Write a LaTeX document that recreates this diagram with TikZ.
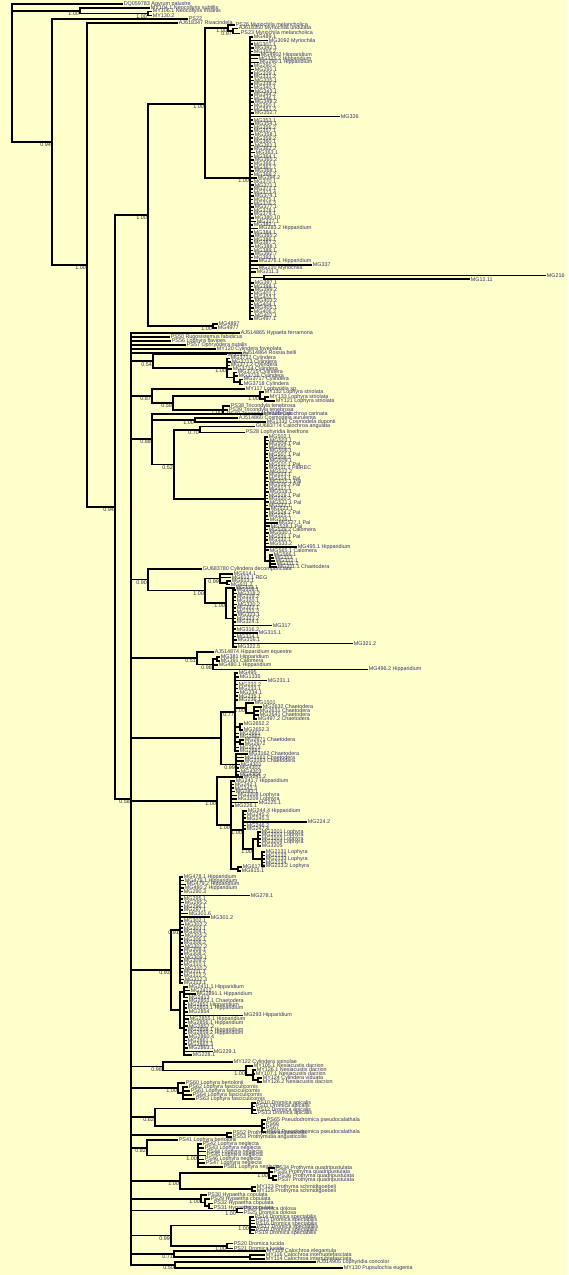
\documentclass[tikz,border=0pt]{standalone}
\usepackage{fontspec}
\newfontfamily\treeface{Liberation Sans}
\newcommand{\leaffont}{\treeface\fontsize{5.4}{6}\selectfont}
\definecolor{bgyellow}{RGB}{255,255,204}
\definecolor{leafc}{RGB}{50,50,110}
\definecolor{suppc}{RGB}{50,50,50}

\begin{document}
\begin{tikzpicture}[x=1pt,y=-1pt,
                    br/.style={line width=1.5pt},
                    leaf/.style={anchor=west,inner sep=0.6pt,font=\leaffont,text=leafc},
                    supp/.style={font=\leaffont,text=suppc,inner sep=0.3pt,label distance=0.8pt}]

  \fill[bgyellow] (0,0) rectangle (568,1275);
  \useasboundingbox (0,0) rectangle (568,1275);

  % outgroups and deep nodes
  \coordinate (root) at (12,73);
  \node[leaf] (dq) at (123,4) {DQ059783 Agyrum palustre};
  \coordinate[label={[supp]below left:1.00}] (neo) at (80,10.75);
  \node[leaf] (neo1) at (150,8) {MY104.1 Neocollyris subtilis};
  \coordinate[label={[supp]below left:1.00}] (neo2) at (148,13.5);
  \node[leaf] (neo3) at (152,11.5) {MY106.1 Neocollyris trisanis};
  \node[leaf] (neo4) at (152,15.5) {MY130.2};
  \coordinate[label={[supp]below left:0.94}] (n52) at (52,142);
  \node[leaf] (ps22) at (188,19) {PS22};
  \coordinate[label={[supp]below left:1.00}] (n87) at (87,265);
  \node[leaf] (riva) at (178,23) {AJ618347 Rivacindela};
  \coordinate[label={[supp]below left:0.94}] (n115) at (115,507);

  \draw[br] (root) |- (dq.west)  (root) |- (neo)  (root) |- (n52);
  \draw[br] (neo) |- (neo1.west)  (neo) |- (neo2);
  \draw[br] (neo2) |- (neo3.west)  (neo2) |- (neo4.west);
  \draw[br] (n52) |- (ps22.west)  (n52) |- (n87);
  \draw[br] (n87) |- (riva.west)  (n87) |- (n115);

  % Myriochila clade
  \coordinate[label={[supp]below left:1.00}] (n148) at (148,215);
  \coordinate[label={[supp]below left:1.00}] (n205) at (205,104);
  \coordinate[label={[supp]below left:1.00}] (myr) at (228,28);
  \node[leaf] (myr1) at (235,25) {PS26 Myriochila melancholica};
  \coordinate[label={[supp]below left:0.97}] (myr2) at (233,31);
  \node[leaf] (myr3) at (238,28.5) {AJ618350 Myriochila undulata};
  \node[leaf] (myr4) at (240,33.5) {PS23 Myriochila melancholica};
  \coordinate[label={[supp]below left:1.00}] (pa) at (250,178);
  \coordinate (pb) at (264,277.4);
  \node[leaf] (pb1) at (546,275.6) {MG216};
  \node[leaf] (pb2) at (470,279.2) {MG12.11};
  \coordinate[label={[supp]below left:1.00}] (n213) at (213,326);
  \node[leaf] (mg48a) at (218,324) {MG4897};
  \node[leaf] (mg48b) at (217,328) {MG4977};

  \draw[br] (n115) |- (n148)  (n148) |- (n205)  (n148) |- (n213);
  \draw[br] (n205) |- (myr)  (n205) |- (pa);
  \draw[br] (myr) |- (myr1.west)  (myr) |- (myr2);
  \draw[br] (myr2) |- (myr3.west)  (myr2) |- (myr4.west);
  \draw[br] (pa) |- (pb)  (pb) |- (pb1.west)  (pb) |- (pb2.west);
  \draw[br] (n213) |- (mg48a.west)  (n213) |- (mg48b.west);

  \foreach \len/\lab [count=\i from 0] in {3/MG489.1, 18/MG3092 Myriochila, 3/MG307.1, 4/MG342.1,
      3/MG355.2, 10/MG4902 Hipparidium, 8/MG325.2 Hipparidium, 9/MG290.1 Hipparidium, 3/MG290.2,
      4/MG291.1, 3/MG329.1, 3/MG331.2, 4/MG335.1, 3/MG338.2, 3/MG340.1, 4/MG343.1, 3/MG344.2,
      3/MG346.1, 4/MG348.2, 3/MG350.1, 3/MG351.2, 4/MG352.7, 90/MG326, 3/MG353.1, 4/MG354.1,
      3/MG356.2, 3/MG357.1, 4/MG358.1, 3/MG359.2, 3/MG360.1, 4/MG361.1, 3/MG362.2, 5/MG363.1,
      3/MG364.1, 4/MG365.2, 3/MG366.1, 3/MG367.7, 4/MG368.1, 3/MG369.2, 7/MG394.2, 3/MG370.1,
      4/MG371.1, 3/MG372.1, 3/MG373.4, 4/MG374.1, 3/MG375.1, 3/MG376.2, 4/MG377.1, 3/MG378.1,
      3/MG379.1, 4/MG380.10, 6/MG327.1, 3/MG382.1, 8/MG283.2 Hipparidium, 3/MG384.1, 4/MG385.2,
      3/MG386.1, 3/MG387.2, 4/MG388.1, 3/MG389.1, 4/MG392.7, 3/MG393.1, 8/MG376.1 Hipparidium,
      62/MG337, 8/MG210 Myriochila, 6/MG211.3}{
    \node[leaf] (pa\i) at ({250+\len},{37+3.615*\i}) {\lab};
    \draw[br] (pa) |- (pa\i.west);
  }
  \foreach \len/\lab [count=\i from 68] in {4/MG397.1, 3/MG398.1, 4/MG399.2, 3/MG401.1, 3/MG402.1,
      4/MG403.2, 3/MG404.1, 4/MG405.1, 3/MG406.2, 4/MG407.1, 3/MG497.1}{
    \node[leaf] (pa\i) at ({250+\len},{37+3.615*\i}) {\lab};
    \draw[br] (pa) |- (pa\i.west);
  }

  % the large comb
  \coordinate[label={[supp]below left:0.58}] (n131) at (131,799);
  \draw[br] (n115) |- (n131);
  \node[leaf] (h1) at (240,333) {AJ514865 Hypaeta ferramona};
  \node[leaf] (h2) at (170,337) {PS50 Rugosistemus fabidicus};
  \node[leaf] (h3) at (171,341) {PS56 Lophyra flavipes};
  \node[leaf] (h4) at (186,345) {PS57 Ophryodera nutalis};
  \node[leaf] (h5) at (216,349) {MY120 Cylindera foveolata};
  \node[leaf] (h6) at (242,353) {AJ514864 Rossia belli};
  \draw[br] (n131) |- (h1.west)  (n131) |- (h2.west)  (n131) |- (h3.west)
            (n131) |- (h4.west)  (n131) |- (h5.west)  (n131) |- (h6.west);

  % Cylindera
  \coordinate[label={[supp]below left:0.54}] (n153) at (153,361.2);
  \node[leaf] (cy0) at (227,354.5) {MG1502};
  \coordinate[label={[supp]below left:1.00}] (n227) at (227,367.9);
  \node[leaf] (cy1) at (230,358.5) {MG3712 Cylindera};
  \node[leaf] (cy2) at (231,362) {MG3713 Cylindera};
  \node[leaf] (cy3) at (230,365.5) {MG371.2 Cylindera};
  \node[leaf] (cy4) at (232,369) {MG3714 Cylindera};
  \coordinate (n234) at (234,377.25);
  \node[leaf] (cy5) at (237,372.5) {MG3715 Cylindera};
  \node[leaf] (cy6) at (238,376) {MG3716 Cylindera};
  \coordinate (n240) at (240,382);
  \node[leaf] (cy7) at (243,379.5) {MG3717 Cylindera};
  \node[leaf] (cy8) at (243,384.5) {MG3718 Cylindera};
  \draw[br] (n131) |- (n153)  (n153) |- (cy0.west)  (n153) |- (n227);
  \draw[br] (n227) |- (cy1.west)  (n227) |- (cy2.west)  (n227) |- (cy3.west)
            (n227) |- (cy4.west)  (n227) |- (n234);
  \draw[br] (n234) |- (cy5.west)  (n234) |- (cy6.west)  (n234) |- (n240);
  \draw[br] (n240) |- (cy7.west)  (n240) |- (cy8.west);

  % Lophyra striolata, Tricondyla
  \coordinate[label={[supp]below left:0.87}] (n152) at (152,396);
  \node[leaf] (lo0) at (245,389) {MY117 Lophyridia sp.};
  \coordinate[label={[supp]below left:0.59}] (n173) at (173,403);
  \coordinate[label={[supp]below left:1.00}] (n260) at (260,396);
  \node[leaf] (lo1) at (264,392) {MY132 Lophyra striolata};
  \coordinate (n265s) at (265,399);
  \node[leaf] (lo2) at (269,397) {MY133 Lophyra striolata};
  \node[leaf] (lo3) at (275,401) {MY121 Lophyra striolata};
  \coordinate[label={[supp]below left:1.00}] (n223) at (223,410);
  \node[leaf] (tr1) at (230,406) {PS38 Tricondyla tenebrosa};
  \node[leaf] (tr2) at (228,410) {PS39 Tricondyla tenebrosa};
  \node[leaf] (tr3) at (226,414) {PS40 Tricondyla tenebrosa};
  \draw[br] (n131) |- (n152)  (n152) |- (lo0.west)  (n152) |- (n173);
  \draw[br] (n173) |- (n260)  (n173) |- (n223);
  \draw[br] (n260) |- (lo1.west)  (n260) |- (n265s)  (n265s) |- (lo2.west)  (n265s) |- (lo3.west);
  \draw[br] (n223) |- (tr1.west)  (n223) |- (tr2.west)  (n223) |- (tr3.west);

  % Calochroa, Cosmodela and the Pal comb
  \coordinate[label={[supp]below left:0.88}] (n152b) at (152,439);
  \node[leaf] (ca0) at (263,414) {MY129 Calochroa carinata};
  \coordinate[label={[supp]below left:1.00}] (n195) at (195,420);
  \node[leaf] (co1) at (238,418) {AJ514860 Cosmodela aurulenta};
  \node[leaf] (co2) at (266,422) {MG1332 Cosmodela duponti};
  \coordinate[label={[supp]below left:0.52}] (n174) at (174,464.5);
  \coordinate[label={[supp]below left:0.70}] (n200) at (200,430);
  \node[leaf] (ca1) at (255,426.5) {GU683774 Calochroa angulata};
  \node[leaf] (ca2) at (245,432.5) {PS28 Lophyridia lineifrons};
  \coordinate (n265) at (265,499);
  \coordinate (n270) at (270,561);
  \draw[br] (n131) |- (n152b)  (n152b) |- (ca0.west)  (n152b) |- (n195)  (n152b) |- (n174);
  \draw[br] (n195) |- (co1.west)  (n195) |- (co2.west);
  \draw[br] (n174) |- (n200)  (n174) |- (n265);
  \draw[br] (n200) |- (ca1.west)  (n200) |- (ca2.west);
  \foreach \len/\lab [count=\i from 0] in {3/MG502.1, 4/MG503.1, 3/MG504.1 Pal, 3/MG505.2, 4/MG506.1,
      3/MG507.1 Pal, 3/MG508.2, 4/MG509.1, 3/MG510.1 Pal, 3/MG511.1 PalREC, 4/MG512.2, 3/MG513.1,
      3/MG514.1 Pal, 4/MG515.1 Pal, 3/MG516.2 Pal, 3/MG517.1, 4/MG518.1, 3/MG519.1 Pal, 3/MG520.2,
      4/MG521.1 Pal, 3/MG522.1, 5/MG523.1, 3/MG524.2 Pal, 3/MG525.1, 4/MG526.1, 13/MG527.1 Pal,
      5/MG528.1 Pal, 3/MG529.2 Calomera, 4/MG530.1, 3/MG531.1 Pal, 3/MG532.1, 4/MG533.2,
      32/MG495.1 Hipparidium, 4/MG565.1 Calomera}{
    \node[leaf] (pl\i) at ({265+\len},{437+3.43*\i}) {\lab};
    \draw[br] (n265) |- (pl\i.west);
  }
  \draw[br] (n265) |- (n270);
  \foreach \lab [count=\i from 0] in {MG566.1, MG313, MG312.1, MG311.2, MG311.1 Chaetodera}{
    \node[leaf] (ch\i) at ({273+\i},{555+3*\i}) {\lab};
    \draw[br] (n270) |- (ch\i.west);
  }

  % Cylindera decempunctata group
  \coordinate[label={[supp]below left:0.90}] (n148b) at (148,579.5);
  \node[leaf] (gu) at (202,569) {GU683780 Cylindera decompunctata};
  \coordinate[label={[supp]below left:1.00}] (n205b) at (205,590.7);
  \coordinate[label={[supp]below left:0.99}] (n220) at (220,578.4);
  \node[leaf] (rg1) at (233,574) {MG614.1};
  \node[leaf] (rg2) at (231,577.5) {MG612.1 REG};
  \coordinate (n227b) at (227,582.75);
  \node[leaf] (rg3) at (231,581) {MG613.1};
  \node[leaf] (rg4) at (230,584.5) {MG611.2};
  \coordinate[label={[supp]below left:1.00}] (n226) at (226,603);
  \node[leaf] (rg5) at (235,588) {MG319.1};
  \coordinate (n233) at (233,618.5);
  \draw[br] (n131) |- (n148b)  (n148b) |- (gu.west)  (n148b) |- (n205b);
  \draw[br] (n205b) |- (n220)  (n205b) |- (n226);
  \draw[br] (n220) |- (rg1.west)  (n220) |- (rg2.west)  (n220) |- (n227b);
  \draw[br] (n227b) |- (rg3.west)  (n227b) |- (rg4.west);
  \draw[br] (n226) |- (rg5.west)  (n226) |- (n233);
  \foreach \len/\lab [count=\i from 0] in {3/MG318.1, 4/MG318.2, 3/MG319.2, 3/MG320.1, 4/MG320.2,
      3/MG322.1, 3/MG322.2, 4/MG323.1, 3/MG323.2, 3/MG324.1, 39/MG317, 3/MG316.2, 25/MG315.1,
      3/MG314.1, 4/MG316.1, 120/MG321.2, 4/MG322.5}{
    \node[leaf] (tc\i) at ({233+\len},{590+3.5625*\i}) {\lab};
    \draw[br] (n233) |- (tc\i.west);
  }

  % Hipparidium equestre
  \coordinate[label={[supp]below left:0.51}] (n197) at (197,658);
  \node[leaf] (he0) at (214,652) {AJ514874 Hipparidium equestre};
  \coordinate[label={[supp]below left:0.98}] (n213b) at (213,664.25);
  \coordinate (n217) at (217,659);
  \node[leaf] (he1) at (220,657) {MG381 Hipparidium};
  \node[leaf] (he2) at (220,661) {MG391 Calomera};
  \node[leaf] (he3) at (218,665) {MG480.1 Hipparidium};
  \node[leaf] (he4) at (368,669.5) {MG496.2 Hipparidium};
  \draw[br] (n131) |- (n197)  (n197) |- (he0.west)  (n197) |- (n213b);
  \draw[br] (n213b) |- (n217)  (n213b) |- (he3.west)  (n213b) |- (he4.west);
  \draw[br] (n217) |- (he1.west)  (n217) |- (he2.west);

  % Chaetodera
  \coordinate (n221) at (221,738);
  \coordinate[label={[supp]below left:0.77}] (n235) at (235,712);
  \coordinate[label={[supp]below left:1.00}] (n246) at (246,708);
  \node[leaf] (cd0) at (254,703) {MG1501};
  \coordinate (n254) at (254,713);
  \node[leaf] (cd1) at (262,707) {MG2632 Chaetodera};
  \node[leaf] (cd2) at (259,711) {MG2631 Chaetodera};
  \node[leaf] (cd3) at (259,715) {MG2641 Chaetodera};
  \node[leaf] (cd4) at (257,719) {MG497.2 Chaetodera};
  \coordinate (n240a) at (240,727);
  \node[leaf] (cd5) at (243,724) {MG2652.2};
  \node[leaf] (cd6) at (243,730) {MG2652.3};
  \node[leaf] (cd7) at (239,733.5) {MG2661};
  \node[leaf] (cd8) at (239,737) {MG2662};
  \coordinate (n240b) at (240,742);
  \node[leaf] (cd9) at (244,740) {MG2671 Chaetodera};
  \node[leaf] (cd10) at (244,744) {MG2672};
  \node[leaf] (cd11) at (239,747.5) {MG2673};
  \node[leaf] (cd12) at (239,751) {MG2681};
  \coordinate[label={[supp]below left:0.99}] (n236) at (236,764.5);
  \draw[br] (n131) |- (n221)  (n221) |- (n235)  (n221) |- (n236);
  \foreach \len/\lab [count=\i from 0] in {3/MG495, 4/MG1335, 32/MG231.1, 3/MG232.2, 3/MG233.1,
      4/MG234.1, 3/MG235.1, 3/MG236.1}{
    \node[leaf] (cp\i) at ({235+\len},{673+3.857*\i}) {\lab};
    \draw[br] (n235) |- (cp\i.west);
  }
  \draw[br] (n235) |- (n246)  (n235) |- (n240a)  (n235) |- (cd7.west)  (n235) |- (cd8.west)
            (n235) |- (n240b)  (n235) |- (cd11.west)  (n235) |- (cd12.west);
  \draw[br] (n246) |- (cd0.west)  (n246) |- (n254);
  \draw[br] (n254) |- (cd1.west)  (n254) |- (cd2.west)  (n254) |- (cd3.west)  (n254) |- (cd4.west);
  \draw[br] (n240a) |- (cd5.west)  (n240a) |- (cd6.west);
  \draw[br] (n240b) |- (cd9.west)  (n240b) |- (cd10.west);
  \foreach \len/\lab [count=\i from 0] in {12/MG3162 Chaetodera, 8/MG3161 Chaetodera,
      8/MG3163 Chaetodera, 4/MG4301, 3/MG4302, 4/MG4303, 3/MG4304}{
    \node[leaf] (cq\i) at ({236+\len},{754+3.5*\i}) {\lab};
    \draw[br] (n236) |- (cq\i.west);
  }

  % Lophyra and Hipparidium group
  \coordinate[label={[supp]below left:1.00}] (n217b) at (217,801);
  \node[leaf] (lh0) at (243,777) {MG241.2};
  \coordinate[label={[supp]below left:1.00}] (n231) at (231,825);
  \coordinate[label={[supp]below left:1.00}] (n243) at (243,830);
  \coordinate[label={[supp]below left:1.00}] (n253) at (253,849);
  \coordinate (n258) at (258,839);
  \coordinate (n262) at (262,859);
  \coordinate (n238) at (238,869);
  \node[leaf] (lh1) at (242,867) {MG617.2};
  \node[leaf] (lh2) at (241,871) {MG615.1};
  \draw[br] (n131) |- (n217b)  (n217b) |- (lh0.west)  (n217b) |- (n231);
  \draw[br] (n231) |- (n243)  (n231) |- (n238)  (n243) |- (n253)  (n253) |- (n258)  (n253) |- (n262);
  \draw[br] (n238) |- (lh1.west)  (n238) |- (lh2.west);
  \foreach \len/\lab [count=\i from 0] in {4/MG241.7 Hipparidium, 3/MG242.1, 3/MG242.3, 4/MG243.1,
      6/MG3208 Lophyra, 6/MG3209 Lophyra, 27/MG225.1, 3/MG226.1}{
    \node[leaf] (lq\i) at ({231+\len},{781+3.571*\i}) {\lab};
    \draw[br] (n231) |- (lq\i.west);
  }
  \foreach \len/\lab [count=\i from 0] in {4/MG244.4 Hipparidium, 3/MG245.2, 3/MG245.3,
      64/MG224.2, 3/MG246.2, 3/MG247.4}{
    \node[leaf] (lr\i) at ({243+\len},{811+3.6*\i}) {\lab};
    \draw[br] (n243) |- (lr\i.west);
  }
  \foreach \lab [count=\i from 0] in {MG3201 Lophyra, MG3202 Lophyra, MG3203 Lophyra,
      MG3204 Lophyra, MG3205}{
    \node[leaf] (ls\i) at (261,{832+3.5*\i}) {\lab};
    \draw[br] (n258) |- (ls\i.west);
  }
  \foreach \lab [count=\i from 0] in {MG2131 Lophyra, MG2132, MG2133 Lophyra, MG2134,
      MG213.2 Lophyra}{
    \node[leaf] (lt\i) at (265,{852+3.5*\i}) {\lab};
    \draw[br] (n262) |- (lt\i.west);
  }

  % Hipparidium
  \coordinate[label={[supp]below left:0.93}] (nX) at (171,970);
  \coordinate[label={[supp]below left:0.91}] (nV) at (180,930);
  \coordinate (nW) at (180,1010);
  \coordinate (n184a) at (184,992);
  \coordinate (n184b) at (184,1028);
  \draw[br] (n131) |- (nX)  (nX) |- (nV)  (nX) |- (nW)  (nW) |- (n184a)  (nW) |- (n184b);
  \foreach \len/\lab [count=\i from 0] in {3/MG478.1 Hipparidium, 4/MG479.1 Hipparidium,
      6/MG479.2 Hipparidium, 4/MG480.2 Hipparidium, 3/MG290.3, 70/MG278.1, 3/MG295.1, 4/MG295.2,
      3/MG296.1, 3/MG297.1, 8/MG301.6, 30/MG301.2, 3/MG302.1, 4/MG302.2, 3/MG303.1, 3/MG304.1,
      4/MG305.2, 3/MG306.1, 3/MG306.2, 4/MG307.2, 3/MG308.1, 3/MG308.2, 4/MG309.1, 3/MG309.2,
      3/MG310.1, 4/MG310.2, 3/MG311.3, 3/MG312.2, 4/MG312.3, 3/MG313.1}{
    \node[leaf] (hv\i) at ({180+\len},{877+3.655*\i}) {\lab};
    \draw[br] (nV) |- (hv\i.west);
  }
  \foreach \len/\lab [count=\i from 0] in {4/MG2411.1 Hipparidium, 6/MG2412,
      12/MG2891.1 Hipparidium, 4/MG2413}{
    \node[leaf] (hw\i) at ({184+\len},{987+3.5*\i}) {\lab};
    \draw[br] (n184a) |- (hw\i.west);
  }
  \foreach \len/\lab [count=\i from 0] in {4/MG2851.1 Chaetodera, 3/MG2852 Hipparidium,
      3/MG2853.1 Hipparidium, 4/MG2854, 59/MG293 Hipparidium, 5/MG2855.1 Hipparidium,
      3/MG2856.1 Hipparidium, 4/MG2857.2, 3/MG2858.1 Hipparidium, 3/MG2859.2 Hipparidium,
      4/MG2860.4, 3/MG2861.1, 3/MG2862.3, 4/MG2863.1, 29/MG229.1, 8/MG228.1}{
    \node[leaf] (hx\i) at ({184+\len},{1001+3.6*\i}) {\lab};
    \draw[br] (n184b) |- (hx\i.west);
  }

  % Cylindera spinolae, viduata
  \coordinate[label={[supp]below left:0.98}] (n163) at (163,1066.25);
  \node[leaf] (sp0) at (233,1062) {MY122 Cylindera spinolae};
  \coordinate[label={[supp]below left:1.00}] (n246b) at (246,1070.5);
  \node[leaf] (sp1) at (253,1066) {MY105.1 Nesiacustis dacrion};
  \coordinate (n253b) at (253,1075);
  \node[leaf] (sp2) at (256,1070) {MY126.1 Nesiacustis dacrion};
  \node[leaf] (sp3) at (255,1074) {MY107.1 Nesiacustis dacrion};
  \coordinate (n258b) at (258,1080);
  \node[leaf] (sp4) at (262,1078) {MY124 Cylindera viduata};
  \node[leaf] (sp5) at (262,1082) {MY126.2 Nesiacustis dacrion};
  \draw[br] (n131) |- (n163)  (n163) |- (sp0.west)  (n163) |- (n246b);
  \draw[br] (n246b) |- (sp1.west)  (n246b) |- (n253b);
  \draw[br] (n253b) |- (sp2.west)  (n253b) |- (sp3.west)  (n253b) |- (n258b);
  \draw[br] (n258b) |- (sp4.west)  (n258b) |- (sp5.west);

  % Lophyra fasciculicornis
  \coordinate[label={[supp]below left:1.00}] (n178) at (178,1088);
  \node[leaf] (lf0) at (185,1083) {PS60 Lophyra bertolonii};
  \coordinate (n183) at (183,1093);
  \node[leaf] (lf1) at (188,1087) {PS62 Lophyra fasciculicornis};
  \node[leaf] (lf2) at (190,1091) {PS61 Lophyra fasciculicornis};
  \node[leaf] (lf3) at (192,1095) {PS64 Lophyra fasciculicornis};
  \node[leaf] (lf4) at (195,1099) {PS63 Lophyra fasciculicornis};
  \draw[br] (n131) |- (n178)  (n178) |- (lf0.west)  (n178) |- (n183);
  \draw[br] (n183) |- (lf1.west)  (n183) |- (lf2.west)  (n183) |- (lf3.west)  (n183) |- (lf4.west);

  % Dromica apicalis, Pseudodromica
  \coordinate[label={[supp]below left:0.62}] (n155) at (155,1117);
  \coordinate (n252) at (252,1108.25);
  \node[leaf] (da1) at (256,1103) {PS10 Dromica apicalis};
  \node[leaf] (da2) at (255,1106.5) {PS11 Dromica apicalis};
  \node[leaf] (da3) at (256,1110) {PS12 Dromica apicalis};
  \node[leaf] (da4) at (257,1113.5) {PS13 Dromica apicalis};
  \coordinate (n262c) at (262,1126);
  \node[leaf] (pd1) at (266,1120) {PS65 Pseudodromica pseudocalathala};
  \node[leaf] (pd2) at (265,1124) {PS66};
  \node[leaf] (pd3) at (265,1128) {PS67};
  \node[leaf] (pd4) at (266,1132) {PS68 Pseudodromica pseudocalathala};
  \draw[br] (n131) |- (n155)  (n155) |- (n252)  (n155) |- (n262c);
  \draw[br] (n252) |- (da1.west)  (n252) |- (da2.west)  (n252) |- (da3.west)  (n252) |- (da4.west);
  \draw[br] (n262c) |- (pd1.west)  (n262c) |- (pd2.west)  (n262c) |- (pd3.west)  (n262c) |- (pd4.west);

  % Prothymidia
  \coordinate (n227c) at (227,1135);
  \node[leaf] (pr1) at (232,1133) {PS52 Prothymidia angusticollis};
  \node[leaf] (pr2) at (232,1137) {PS53 Prothymidia angusticollis};
  \draw[br] (n131) |- (n227c)  (n227c) |- (pr1.west)  (n227c) |- (pr2.west);

  % Lophyra neglecta
  \coordinate[label={[supp]below left:0.82}] (n147) at (147,1148);
  \node[leaf] (ln0) at (178,1140) {PS41 Lophyra bertolonii};
  \coordinate[label={[supp]below left:1.00}] (n198) at (198,1155.5);
  \draw[br] (n131) |- (n147)  (n147) |- (ln0.west)  (n147) |- (n198);
  \foreach \len/\lab [count=\i from 0] in {4/PS42 Lophyra neglecta, 6/PS43 Lophyra neglecta,
      8/PS44 Lophyra neglecta, 8/PS45 Lophyra neglecta, 6/PS46 Lophyra neglecta,
      7/PS47 Lophyra neglecta, 25/PS81 Lophyra neglecta}{
    \node[leaf] (ln\i x) at ({198+\len},{1144+3.83*\i}) {\lab};
    \draw[br] (n198) |- (ln\i x.west);
  }

  % Prothyma
  \coordinate[label={[supp]below left:1.00}] (n180) at (180,1181);
  \coordinate[label={[supp]below left:1.00}] (n269) at (269,1173);
  \node[leaf] (pq1) at (275,1168) {PS34 Prothyma quadripustulata};
  \node[leaf] (pq2) at (273,1172) {PS35 Prothyma quadripustulata};
  \coordinate (n273) at (273,1178);
  \node[leaf] (pq3) at (277,1176) {PS36 Prothyma quadripustulata};
  \node[leaf] (pq4) at (277,1180) {PS37 Prothyma quadripustulata};
  \coordinate (n252b) at (252,1189);
  \node[leaf] (ps1) at (256,1187) {MY123 Prothyma schmidtgoebeli};
  \node[leaf] (ps2) at (256,1191) {MY125 Prothyma schmidtgoebeli};
  \draw[br] (n131) |- (n180)  (n180) |- (n269)  (n180) |- (n252b);
  \draw[br] (n269) |- (pq1.west)  (n269) |- (pq2.west)  (n269) |- (n273);
  \draw[br] (n273) |- (pq3.west)  (n273) |- (pq4.west);
  \draw[br] (n252b) |- (ps1.west)  (n252b) |- (ps2.west);

  % Hypaetha
  \coordinate[label={[supp]below left:1.00}] (n201) at (201,1199);
  \node[leaf] (hy1) at (207,1195) {PS30 Hypaetha copulata};
  \coordinate (n205c) at (205,1202.5);
  \node[leaf] (hy2) at (210,1199) {PS29 Hypaetha copulata};
  \coordinate (n209) at (209,1206);
  \node[leaf] (hy3) at (213,1203.5) {PS32 Hypaetha copulata};
  \node[leaf] (hy4) at (213,1208.5) {PS31 Hypaetha copulata};
  \draw[br] (n131) |- (n201)  (n201) |- (hy1.west)  (n201) |- (n205c);
  \draw[br] (n205c) |- (hy2.west)  (n205c) |- (n209);
  \draw[br] (n209) |- (hy3.west)  (n209) |- (hy4.west);

  % Dromica
  \coordinate[label={[supp]below left:1.00}] (n237) at (237,1210.5);
  \node[leaf] (dd1) at (243,1208.5) {PS24 Dromica dolosa};
  \node[leaf] (dd2) at (243,1212.5) {PS25 Dromica dolosa};
  \draw[br] (n131) |- (n237)  (n237) |- (dd1.west)  (n237) |- (dd2.west);
  \coordinate[label={[supp]below left:0.99}] (n171) at (171,1235.6);
  \coordinate[label={[supp]below left:1.00}] (n250) at (250,1225.25);
  \coordinate[label={[supp]below left:1.00}] (n227d) at (227,1246);
  \node[leaf] (dl1) at (233,1243.5) {PS20 Dromica lucida};
  \node[leaf] (dl2) at (233,1248.5) {PS21 Dromica lucida};
  \draw[br] (n131) |- (n171)  (n171) |- (n250)  (n171) |- (n227d);
  \draw[br] (n227d) |- (dl1.west)  (n227d) |- (dl2.west);
  \foreach \len/\lab [count=\i from 0] in {4/PS14 Dromica spectabilis, 5/PS15 Dromica spectabilis,
      5/PS16 Dromica spectabilis, 6/PS17 Dromica spectabilis, 5/PS18 Dromica spectabilis,
      4/PS19 Dromica spectabilis}{
    \node[leaf] (ds\i) at ({250+\len},{1217+3.3*\i}) {\lab};
    \draw[br] (n250) |- (ds\i.west);
  }

  % Calochroa and the last pair
  \coordinate[label={[supp]below left:0.71}] (n174b) at (174,1254);
  \node[leaf] (ce1) at (266,1251) {MY115 Calochroa elegantula};
  \coordinate (n250b) at (250,1257);
  \node[leaf] (ce2) at (265,1255) {MY116 Calochroa interruptefasciata};
  \node[leaf] (ce3) at (265,1259) {MY114 Calochroa interruptefasciata};
  \coordinate[label={[supp]below left:0.50}] (n175) at (175,1265);
  \node[leaf] (lc1) at (316,1262) {AJ514905 Lophyridia concolor};
  \node[leaf] (lc2) at (343,1268) {MY130 Pupsulochia eugenia};
  \draw[br] (n131) |- (n174b)  (n174b) |- (ce1.west)  (n174b) |- (n250b);
  \draw[br] (n250b) |- (ce2.west)  (n250b) |- (ce3.west);
  \draw[br] (n131) |- (n175)  (n175) |- (lc1.west)  (n175) |- (lc2.west);
\end{tikzpicture}
\end{document}
